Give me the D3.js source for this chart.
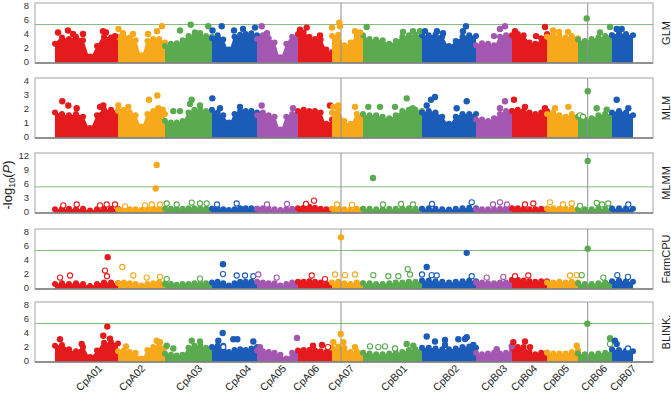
<!DOCTYPE html>
<html>
<head>
<meta charset="utf-8">
<script src="https://cdn.jsdelivr.net/npm/d3@7"></script>
<style>
  body { margin: 0; background: #fff; }
  text { font-family: "Liberation Sans", Arial, sans-serif; fill: #222; }
</style>
</head>
<body>
<svg id="chart" width="671" height="395"></svg>
<script>
// chromosomes, lengths (Mb) and tick label positions (Mb along genome)
const chromosomes = ["CpA01","CpA02","CpA03","CpA04","CpA05","CpA06","CpA07",
                     "CpB01","CpB02","CpB03","CpB04","CpB05","CpB06","CpB07"];
const chromLengths = [63,47,47,45,41,34,31,59,54,36,35,31,34,21];
const tickPos = [48,91,148,197,232,265,300,353,405,453,483,515,553,582];
const chromColors = ["#e41a1c","#f7a81b","#5aab4f","#1b5cb8","#a457b0"];

const models = ["GLM","MLM","MLMM","FarmCPU","BLINK."];
const yMax = [8,4,12,8,8];
const yTicks = [[0,2,4,6,8],[0,1,2,3,4],[0,3,6,9,12],[0,2,4,6,8],[0,2,4,6,8]];
const threshold = 5.24;
const showThreshold = [true,false,true,true,true];
// highlighted loci: [chromosome index, position Mb]
const markers = [[6,9],[12,9.7]];

// upper edge of the SNP cloud, evenly spread along each chromosome
const glmTop = [
  [2.5,3.4,3.2,3.5,3.0,0.7,2.2,3.5,3.4,3.1],
  [3.5,3.5,3.4,3.0,0.9,2.9,3.2,3.2,2.7],
  [2.2,2.5,2.6,3.0,3.6,3.7,3.7,3.6,3.5],
  [3.3,3.7,3.1,1.7,3.5,3.8,3.9,4.0,3.7],
  [3.2,3.7,3.3,2.7,0.6,2.5,3.5,3.6],
  [3.9,4.1,3.5,3.2,3.1,1.7,1.3],
  [3.6,3.8,2.3,2.7,3.6,3.3],
  [3.7,3.2,3.1,3.0,2.5,2.9,3.5,3.7,3.8,3.7],
  [3.7,3.7,3.8,3.5,2.2,2.9,3.5,3.7,3.6],
  [2.3,2.6,2.5,2.3,3.5,3.7,3.6],
  [3.7,3.9,3.7,2.7,2.5,3.3,3.9],
  [3.5,3.8,3.6,3.4,3.6,3.3],
  [3.1,2.9,3.2,3.4,3.6,3.7],
  [3.7,4.0,3.9,3.7]
];
const mlmTop = [
  [1.7,1.6,1.5,1.6,1.4,0.6,1.5,1.9,1.9,1.8],
  [1.8,1.9,1.7,1.5,0.7,1.6,1.8,1.8,1.6],
  [1.1,1.0,1.0,1.1,1.7,1.9,1.9,1.8,1.7],
  [1.9,1.7,1.5,1.0,1.6,1.8,1.8,1.8,1.7],
  [1.5,1.7,1.5,1.4,0.5,1.4,1.6,1.7],
  [1.8,1.9,1.8,1.8,1.7,0.9,1.2],
  [1.7,1.9,1.1,0.9,1.6,1.5],
  [1.6,1.5,1.5,1.4,1.3,1.5,1.8,1.9,1.9,1.8],
  [1.7,1.8,1.7,1.4,0.9,1.4,1.6,1.6,1.6],
  [1.2,1.2,1.1,1.3,1.6,1.8,1.8],
  [1.8,1.9,1.8,1.7,1.6,1.7,1.8],
  [1.6,1.7,1.5,1.4,1.6,1.4],
  [1.4,1.2,1.3,1.5,1.6,1.6],
  [1.7,1.8,1.7,1.5]
];
const mlmmTop = [
  [0.5,0.6,0.6,0.5,0.6,0.2,0.5,0.6,0.6,0.6],
  [0.5,0.5,0.5,0.5,0.3,0.5,0.6,0.6,0.5],
  [0.6,0.6,0.6,0.6,0.7,0.7,0.7,0.6,0.6],
  [0.6,0.6,0.5,0.3,0.5,0.7,0.7,0.7,0.6],
  [0.6,0.7,0.6,0.5,0.3,0.5,0.6,0.6],
  [0.7,0.8,1.0,0.8,0.6,0.5,0.5],
  [0.6,0.7,0.5,0.5,0.6,0.6],
  [0.6,0.6,0.5,0.5,0.6,0.6,0.7,0.7,0.6,0.6],
  [0.6,0.7,0.6,0.5,0.4,0.6,0.7,0.8,0.7],
  [0.5,0.5,0.5,0.5,0.6,0.7,0.6],
  [0.7,0.7,0.6,0.5,0.5,0.6,0.6],
  [0.6,0.7,0.6,0.6,0.6,0.5],
  [0.5,0.5,0.5,0.6,0.6,0.7],
  [0.6,0.7,0.7,0.6]
];
const farmTop = [
  [0.5,0.6,0.5,0.6,0.5,0.2,0.5,0.7,0.7,0.6],
  [0.6,0.7,0.6,0.5,0.3,0.5,0.6,0.7,0.6],
  [0.5,0.5,0.4,0.5,0.5,0.6,0.6,0.6,0.5],
  [0.7,0.8,0.6,0.3,0.6,0.8,0.8,0.8,0.7],
  [0.8,0.7,0.6,0.6,0.3,0.5,0.7,0.7],
  [0.8,0.8,0.9,0.8,0.7,0.5,0.5],
  [0.7,0.8,0.6,0.5,0.7,0.6],
  [0.6,0.6,0.5,0.5,0.6,0.7,0.7,0.8,0.8,0.8],
  [1.0,1.0,0.9,0.8,0.7,0.8,0.9,1.0,0.9],
  [0.7,0.7,0.6,0.6,0.7,0.7,0.8],
  [1.1,1.1,1.0,0.9,0.8,0.9,0.9],
  [0.7,0.7,0.8,0.7,0.8,0.7],
  [0.6,0.5,0.5,0.6,0.7,0.8],
  [0.9,1.0,0.9,0.8]
];
const blinkTop = [
  [2.1,2.2,1.6,1.3,1.9,0.5,1.4,2.5,2.6,2.4],
  [1.3,1.4,1.2,1.1,0.3,1.5,1.9,2.1,1.8],
  [1.0,0.8,0.7,0.8,1.8,2.1,2.1,1.8,1.6],
  [1.9,2.1,2.1,1.2,1.5,1.6,1.5,1.7,1.9],
  [1.4,1.3,1.2,1.1,0.8,0.3,1.1,1.3],
  [1.4,1.5,1.5,1.4,1.3,1.2,1.3],
  [1.8,2.0,1.8,1.2,1.3,1.1],
  [1.1,1.0,0.9,0.9,1.0,1.1,1.2,1.5,1.6,1.4],
  [1.8,1.8,1.7,1.6,1.6,1.7,1.9,2.0,1.8],
  [1.1,0.9,1.0,1.1,1.0,1.1,1.3],
  [1.8,1.9,1.9,1.2,0.9,1.1,1.1],
  [1.1,1.0,1.0,1.0,1.2,1.5],
  [1.0,0.9,0.9,1.0,1.1,1.3],
  [1.6,1.5,1.4,1.3]
];

// single SNPs standing out of the cloud: [chrom, pos Mb, -log10 P, open]
const glmDots = [
  [0,3,4.1,0],[0,13,4.4,0],[0,18,3.9,0],[0,28,3.9,0],[0,48,4.3,0],[0,51,4.1,0],[0,60,3.6,0],
  [1,0.5,4.6,0],[1,5,4.0,0],[1,15,3.9,0],[1,30,3.9,0],[1,39,4.3,0],[1,44,5.0,0],
  [2,15,4.4,0],[2,25.7,5.2,0],[2,30,4.1,0],[2,35,4.0,0],[2,43.3,5.0,0],
  [3,0.5,4.4,0],[3,9.7,5.0,0],[3,22,4.4,0],[3,31,4.6,0],[3,43,4.8,0],
  [4,4.7,5.0,0],[4,10,4.0,0],
  [5,2,4.5,0],[5,8.7,4.8,0],[5,22,3.7,0],
  [6,0,4.8,0],[6,7.3,5.5,0],[6,8,5.0,0],[6,23,4.3,0],[6,28,4.1,0],
  [7,3.7,4.9,0],[7,40,4.2,0],[7,50,4.3,0],[7,57,4.3,0],
  [8,3,4.3,0],[8,15,4.3,0],[8,21,4.0,0],[8,41,4.3,0],[8,44,5.0,0],
  [9,18,3.6,0],[9,24,4.6,0],[9,29,5.0,0],
  [10,3,4.3,0],[10,24,3.6,0],[10,33,4.9,0],
  [11,6,4.4,0],[11,12,4.2,0],[11,21,4.2,0],
  [12,8.7,6.1,0],[12,22,4.1,0],[12,32,4.9,0],
  [13,4.7,4.6,0],[13,9.7,4.6,0]
];
const mlmDots = [
  [0,7.3,2.5,0],[0,13.3,2.2,0],[0,21.7,2.0,0],[0,45,2.1,0],[0,48.3,2.2,0],
  [1,0.3,2.2,0],[1,10.3,2.1,0],[1,31,2.6,0],[1,39.3,2.9,0],[1,40.3,2.0,0],[1,44.7,1.9,0],
  [2,8.3,1.8,0],[2,15,1.8,0],[2,25,2.3,0],[2,26.7,2.6,0],[2,35,2.2,0],
  [3,0.3,2.7,0],[3,8,2.0,0],[3,28,2.1,0],
  [4,4.7,2.2,0],[4,36,2.0,0],
  [5,32,2.2,0],
  [6,1.3,2.1,0],[6,6.3,2.2,0],[6,23,2.1,0],
  [7,5.3,2.1,0],[7,17,2.1,0],[7,32,2.1,0],[7,43.7,2.7,0],[7,49.7,2.0,0],
  [8,4.7,2.2,0],[8,9,2.6,0],[8,13,2.8,0],[8,34.7,2.0,0],[8,44.7,2.5,0],
  [9,24,2.0,0],[9,29,2.5,0],
  [10,2,2.6,0],[10,13,2.1,0],[10,33,2.0,0],
  [11,8,2.0,0],[11,21.3,2.1,0],
  [12,2,1.5,1],[12,5,1.4,1],[12,9.7,3.2,0],[12,18.7,2.0,0],[12,28.7,1.9,0],
  [13,4.7,2.6,0],[13,16.3,2.0,0]
];
const mlmmDots = [
  [0,8.3,1.3,1],[0,21.7,1.5,1],[0,45,1.3,1],[0,51.7,1.5,1],[0,60,1.5,1],
  [1,7,1.1,1],[1,27,1.3,1],[1,33.7,1.5,1],[1,42,1.5,1],[1,37.7,4.9,0],[1,38.7,9.9,0],
  [2,1.7,1.7,1],[2,11.7,1.5,1],[2,26.7,1.9,1],[2,35,1.7,1],[2,41.7,1.7,1],
  [3,5,1.5,1],[3,24.7,1.7,1],
  [4,10,1.5,1],[4,30,1.6,1],
  [5,8,1.6,1],[5,16,2.3,1],
  [6,5,1.5,1],[6,20,1.4,1],
  [7,10,7.1,0],[7,20,1.5,1],[7,38,1.6,1],[7,50,1.5,1],
  [8,10,1.6,1],[8,49.7,1.95,1],
  [9,17,1.5,1],[9,24,1.95,1],[9,31,1.5,1],
  [10,13,1.5,1],[10,21.3,1.7,1],
  [11,3,1.95,1],[11,16,1.5,1],[11,24.7,1.7,1],
  [12,2,1.2,1],[12,9.7,10.75,0],[12,18.7,1.8,1],[12,24,1.5,1],[12,30.3,1.7,1],
  [13,16.3,1.5,1]
];
const farmDots = [
  [0,5,1.4,1],[0,15,1.7,1],[0,50,2.4,1],[0,52,1.6,1],[0,52.7,4.3,0],
  [1,4.3,2.9,1],[1,15.3,1.7,1],[1,28.7,1.4,1],[1,42,1.5,1],
  [2,1.7,1.2,1],[2,35,1.25,1],
  [3,11,3.3,0],[3,11,1.9,1],[3,24.7,1.7,1],[3,33,1.7,1],[3,41.3,1.6,1],
  [4,1.3,1.85,1],[4,19.7,1.4,1],
  [5,13.7,1.7,1],[5,27,1.2,1],
  [6,3,1.85,1],[6,9,7.1,0],[6,13,1.75,1],[6,23,1.85,1],
  [7,10.3,1.75,1],[7,25.3,1.6,1],[7,35.3,1.6,1],[7,44.7,2.6,1],[7,47,1.85,1],
  [8,0,1.85,1],[8,4.7,2.9,0],[8,9.7,1.75,1],[8,14.7,1.7,1],[8,44.7,4.9,0],[8,49.7,1.6,1],
  [9,10.7,1.4,1],[9,27.3,1.5,1],
  [10,3,1.6,1],[10,16.3,1.7,1],
  [11,23,1.7,1],[11,29.7,1.75,1],
  [12,3.7,1.75,1],[12,9.7,5.5,0],[12,25.3,1.4,1],
  [13,5.3,1.75,1],[13,16,1.5,1]
];
const blinkDots = [
  [0,5,3.0,0],[0,26.7,2.35,0],[0,48.3,3.5,0],[0,52.3,4.8,0],[0,55,3.1,0],
  [1,8,2.0,0],[1,38.7,2.8,0],[1,42,2.6,0],
  [2,1.7,2.1,0],[2,8.3,1.7,0],[2,26.7,2.8,0],[2,35,2.7,0],
  [3,6.3,2.8,0],[3,10.7,3.9,0],[3,11.3,1.9,1],[3,21.3,3.0,0],[3,25.3,3.0,0],[3,41.3,2.7,0],
  [4,3,1.9,0],[4,40,3.2,0],
  [5,15,2.1,0],[5,24,2.2,0],[5,30,1.9,1],
  [6,1.3,2.6,0],[6,8.7,3.76,0],[6,11.3,2.6,0],[6,23,1.9,0],
  [7,7,2.0,1],[7,15.3,1.9,1],[7,22,2.0,1],[7,32,1.7,1],[7,43.7,2.35,0],[7,50.3,2.1,0],
  [8,4.7,3.4,0],[8,13,2.7,0],[8,23,2.9,0],[8,23,2.2,0],[8,36.3,3.0,0],[8,43,3.05,0],[8,44.7,3.3,0],[8,51.3,2.2,0],
  [9,20.7,1.6,0],[9,35.7,2.0,0],
  [10,1.3,2.6,0],[10,13,2.7,0],[10,18,1.9,0],
  [11,29.7,2.1,0],
  [12,9.3,5.2,0],[12,32,3.15,0],[12,32,2.35,1],
  [13,3,2.8,0],[13,4.7,2.35,0],[13,16,1.7,1]
];

const tops = [glmTop, mlmTop, mlmmTop, farmTop, blinkTop];
const dots = [glmDots, mlmDots, mlmmDots, farmDots, blinkDots];

// layout
const svg = d3.select('#chart');
const panelTops = [3, 78, 153, 229, 302];
const panelH = 60;
const left = 35, right = 653;
const offsets = chromLengths.map((d, i) => d3.sum(chromLengths.slice(0, i)));
const x = d3.scaleLinear().domain([-20, 598]).range([left, right]);
const colorOf = i => chromColors[i % chromColors.length];
const gx = (c, pos) => x(offsets[c] + pos);

models.forEach((name, k) => {
    const top = panelTops[k], bottom = top + panelH;
    const y = d3.scaleLinear().domain([0, yMax[k]]).range([bottom - 1.5, top + 2]);
    const g = svg.append('g').attr('class', 'panel');

    // the SNP clouds
    tops[k].forEach((vals, c) => {
        const pts = vals.map((v, j) => [offsets[c] + j * chromLengths[c] / (vals.length - 1), v]);
        g.append('path')
            .datum(pts)
            .attr('fill', colorOf(c))
            .attr('d', d3.area()
                .x(d => x(d[0]))
                .y0(bottom)
                .y1(d => y(d[1]))
                .curve(d3.curveMonotoneX));
        g.selectAll(null).data(pts).enter()
            .append('circle')
            .attr('cx', d => x(d[0]))
            .attr('cy', d => y(d[1]))
            .attr('r', 3)
            .attr('fill', colorOf(c));
    });

    // threshold + marker lines
    if (showThreshold[k]) {
        g.append('line')
            .attr('x1', left).attr('x2', right)
            .attr('y1', y(threshold)).attr('y2', y(threshold))
            .attr('stroke', '#86bd7f').attr('stroke-width', 1);
    }
    g.selectAll(null).data(markers).enter()
        .append('line')
        .attr('x1', d => gx(d[0], d[1])).attr('x2', d => gx(d[0], d[1]))
        .attr('y1', top).attr('y2', bottom)
        .attr('stroke', '#8f8f8f').attr('stroke-width', 1);

    // standout SNPs
    g.selectAll(null).data(dots[k]).enter()
        .append('circle')
        .attr('cx', d => gx(d[0], d[1]))
        .attr('cy', d => y(d[2]))
        .attr('r', d => d[3] ? 2.6 : 3.2)
        .attr('fill', d => d[3] ? '#fff' : colorOf(d[0]))
        .attr('stroke', d => d[3] ? colorOf(d[0]) : 'none')
        .attr('stroke-width', 1.1);

    // frame
    g.append('rect')
        .attr('x', left).attr('y', top)
        .attr('width', right - left).attr('height', panelH)
        .attr('fill', 'none').attr('stroke', '#a3a3a3');
    g.append('line')
        .attr('x1', left).attr('x2', right)
        .attr('y1', bottom).attr('y2', bottom)
        .attr('stroke', '#7d7d7d').attr('stroke-width', 1.4);

    const ax = g.append('g')
        .attr('transform', 'translate(' + left + ',0)')
        .call(d3.axisLeft(y).tickValues(yTicks[k]).tickFormat(d3.format('d')).tickSize(0).tickPadding(6));
    ax.select('.domain').remove();
    ax.selectAll('text').style('font-size', '9.5px').style('fill', '#333');

    g.append('text')
        .attr('transform', 'translate(670,' + (top + panelH / 2) + ') rotate(-90)')
        .attr('text-anchor', 'middle')
        .style('font-size', '11px')
        .text(name);
});

// chromosome labels under the last panel
const lastBottom = panelTops[4] + panelH;
svg.append('g').selectAll('text').data(chromosomes).enter()
    .append('text')
    .attr('transform', (d, i) => 'translate(' + x(tickPos[i]) + ',' + (lastBottom + 7) + ') rotate(-45)')
    .attr('text-anchor', 'end')
    .style('font-size', '10.5px')
    .text(d => d);

// y title
const yt = svg.append('text')
    .attr('transform', 'translate(12,185) rotate(-90)')
    .attr('text-anchor', 'middle')
    .style('font-size', '13px');
yt.append('tspan').text('-log');
yt.append('tspan').attr('dy', 3).style('font-size', '9px').text('10');
yt.append('tspan').attr('dy', -3).text('(');
yt.append('tspan').style('font-style', 'italic').text('P');
yt.append('tspan').text(')');
</script>
</body>
</html>
